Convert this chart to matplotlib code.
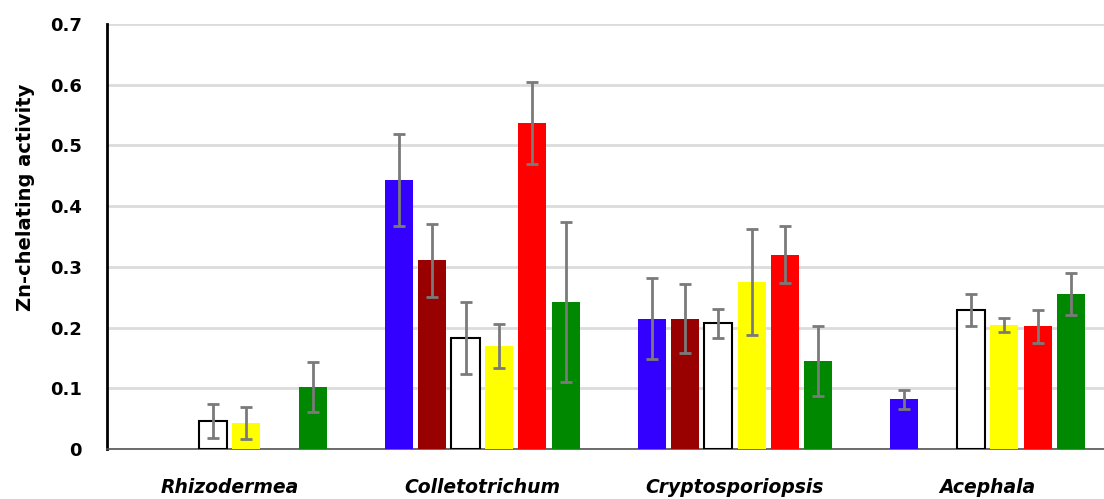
import matplotlib
matplotlib.use('Agg')
import matplotlib.pyplot as plt
import numpy as np

plt.rcParams['font.family'] = ['DejaVu Sans']

genera = ["Rhizodermea", "Colletotrichum", "Cryptosporiopsis", "Acephala"]
colors = ["#3300FF", "#990000", "#FFFFFF", "#FFFF00", "#FF0000", "#008800"]

# one list per bar colour, one value per genus (nan = no bar)
blue = [np.nan, 0.443, 0.215, 0.082]
darkred = [np.nan, 0.311, 0.215, np.nan]
white = [0.046, 0.183, 0.207, 0.229]
yellow = [0.043, 0.170, 0.275, 0.204]
red = [np.nan, 0.537, 0.320, 0.202]
green = [0.102, 0.242, 0.145, 0.255]

blue_err = [np.nan, 0.076, 0.067, 0.016]
darkred_err = [np.nan, 0.060, 0.057, np.nan]
white_err = [0.028, 0.059, 0.024, 0.026]
yellow_err = [0.026, 0.036, 0.087, 0.012]
red_err = [np.nan, 0.067, 0.047, 0.027]
green_err = [0.041, 0.132, 0.057, 0.035]

series = [blue, darkred, white, yellow, red, green]
errors = [blue_err, darkred_err, white_err, yellow_err, red_err, green_err]

fig = plt.figure(figsize=(11.04, 4.99), dpi=100)
ax = fig.add_axes([0.097, 0.100, 0.903, 0.852])

x = np.arange(len(genera))
slot = 0.132
bw = 0.111
for i, (vals, errs, c) in enumerate(zip(series, errors, colors)):
    pos = x + (i - 2.5) * slot
    ec = 'black' if c == "#FFFFFF" else c
    lw = 1.5 if c == "#FFFFFF" else 0
    ax.bar(pos, vals, width=bw, color=c, edgecolor=ec, linewidth=lw, zorder=3)
    ax.errorbar(pos, vals, yerr=errs, fmt='none', ecolor='#7a7a7a',
                elinewidth=2, capsize=4.5, capthick=2, zorder=4)

ax.set_ylim(0, 0.7)
ax.set_xlim(-0.484, 3.46)
ax.set_yticks(np.arange(0, 0.71, 0.1))
ax.set_yticklabels(['0', '0.1', '0.2', '0.3', '0.4', '0.5', '0.6', '0.7'],
                   fontsize=13, fontweight='bold')
ax.set_xticks(x)
ax.set_xticklabels(genera, fontsize=13.5, fontweight='bold', style='italic')
ax.tick_params(axis='both', length=0)
ax.tick_params(axis='y', pad=18)
ax.tick_params(axis='x', pad=21)
ax.set_ylabel("Zn-chelating activity", fontsize=14, fontweight='bold')
ax.yaxis.set_label_coords(-0.072, 0.593)

ax.grid(axis='y', color='#dcdcdc', linewidth=2, zorder=0)
ax.set_axisbelow(True)
for s in ['top', 'right']:
    ax.spines[s].set_visible(False)
ax.spines['left'].set_linewidth(2)
ax.spines['left'].set_color('black')
ax.spines['bottom'].set_color('#555555')
ax.spines['bottom'].set_linewidth(1.2)

fig.savefig('out.png', dpi=100)
